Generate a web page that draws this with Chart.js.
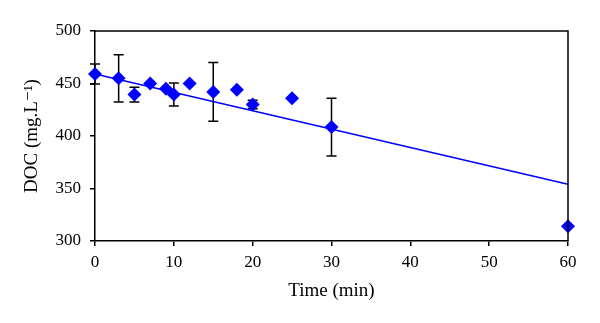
<!DOCTYPE html>
<html>
<head>
<meta charset="utf-8">
<script src="https://cdn.jsdelivr.net/npm/chart.js@4.4.1/dist/chart.umd.min.js"></script>
<style>
  html, body { margin: 0; padding: 0; background: #fff; }
  #wrap { width: 600px; height: 323px; }
</style>
</head>
<body>
<div id="wrap"><canvas id="c" width="600" height="323"></canvas></div>
<script>
const times = [0, 3, 5, 7, 9, 10, 12, 15, 18, 20, 25, 30, 60];
const doc = [459, 455, 439.5, 450, 445, 439.5, 450, 442, 444, 430, 436, 408.5, 314];
const errors = [9.5, 22.5, 7, 0, 0, 11, 0, 28, 0, 4, 0, 27.5, 0];
const trendX = [0, 60];
const trendY = [459, 354];
const xTicks = [0, 10, 20, 30, 40, 50, 60];
const yTicks = [300, 350, 400, 450, 500];

const FONT = "'Liberation Serif', 'DejaVu Serif', serif";

const errorBars = {
  id: 'errorBars',
  beforeDatasetsDraw(chart) {
    const ctx = chart.ctx;
    const xs = chart.scales.x, ys = chart.scales.y;
    ctx.save();
    ctx.strokeStyle = '#000';
    ctx.lineWidth = 1.5;
    times.forEach((t, i) => {
      if (!errors[i]) return;
      const px = xs.getPixelForValue(t);
      const top = ys.getPixelForValue(doc[i] + errors[i]);
      const bot = ys.getPixelForValue(doc[i] - errors[i]);
      ctx.beginPath();
      ctx.moveTo(px, top); ctx.lineTo(px, bot);
      ctx.moveTo(px - 5, top); ctx.lineTo(px + 5, top);
      ctx.moveTo(px - 5, bot); ctx.lineTo(px + 5, bot);
      ctx.stroke();
    });
    ctx.restore();
  },
  afterDraw(chart) {
    const a = chart.chartArea;
    const ctx = chart.ctx;
    ctx.save();
    ctx.strokeStyle = '#000';
    ctx.lineWidth = 1.5;
    ctx.beginPath();
    ctx.moveTo(a.left, a.top); ctx.lineTo(a.right, a.top); ctx.lineTo(a.right, a.bottom);
    ctx.stroke();
    ctx.restore();
  }
};

new Chart(document.getElementById('c'), {
  type: 'scatter',
  data: {
    datasets: [
      {
        type: 'line',
        data: trendX.map((x, i) => ({ x, y: trendY[i] })),
        borderColor: '#0000ff',
        borderWidth: 1.5,
        pointRadius: 0,
        fill: false,
        order: 2
      },
      {
        data: times.map((t, i) => ({ x: t, y: doc[i] })),
        pointStyle: 'rectRot',
        pointRadius: 7,
        backgroundColor: '#0000ff',
        borderColor: '#0000ff',
        borderWidth: 0,
        order: 1
      }
    ]
  },
  options: {
    responsive: false,
    animation: false,
    clip: false,
    layout: { padding: { left: 0, top: 31, right: 32, bottom: 0 } },
    plugins: { legend: { display: false }, tooltip: { enabled: false } },
    scales: {
      x: {
        type: 'linear',
        min: 0, max: 60,
        afterBuildTicks: s => { s.ticks = xTicks.map(v => ({ value: v })); },
        afterFit: s => { s.height = 82; },
        ticks: { color: '#000', font: { family: FONT, size: 17 }, padding: 6, maxRotation: 0 },
        grid: { drawOnChartArea: false, drawTicks: true, tickLength: 5, color: '#000', lineWidth: 1.5 },
        border: { display: true, color: '#000', width: 1.5 },
        title: { display: true, text: 'Time (min)', color: '#000', font: { family: FONT, size: 19 }, padding: { top: 0, bottom: 21 } }
      },
      y: {
        type: 'linear',
        min: 300, max: 500,
        afterBuildTicks: s => { s.ticks = yTicks.map(v => ({ value: v })); },
        afterFit: s => { s.width = 95; },
        ticks: { color: '#000', font: { family: FONT, size: 17 }, padding: 9 },
        grid: { drawOnChartArea: false, drawTicks: true, tickLength: 5, color: '#000', lineWidth: 1.5 },
        border: { display: true, color: '#000', width: 1.5 },
        title: { display: true, text: 'DOC (mg.L\u207B\u00B9)', color: '#000', font: { family: FONT, size: 19 }, padding: { top: 21, bottom: 0 } }
      }
    }
  },
  plugins: [errorBars]
});
</script>
</body>
</html>
